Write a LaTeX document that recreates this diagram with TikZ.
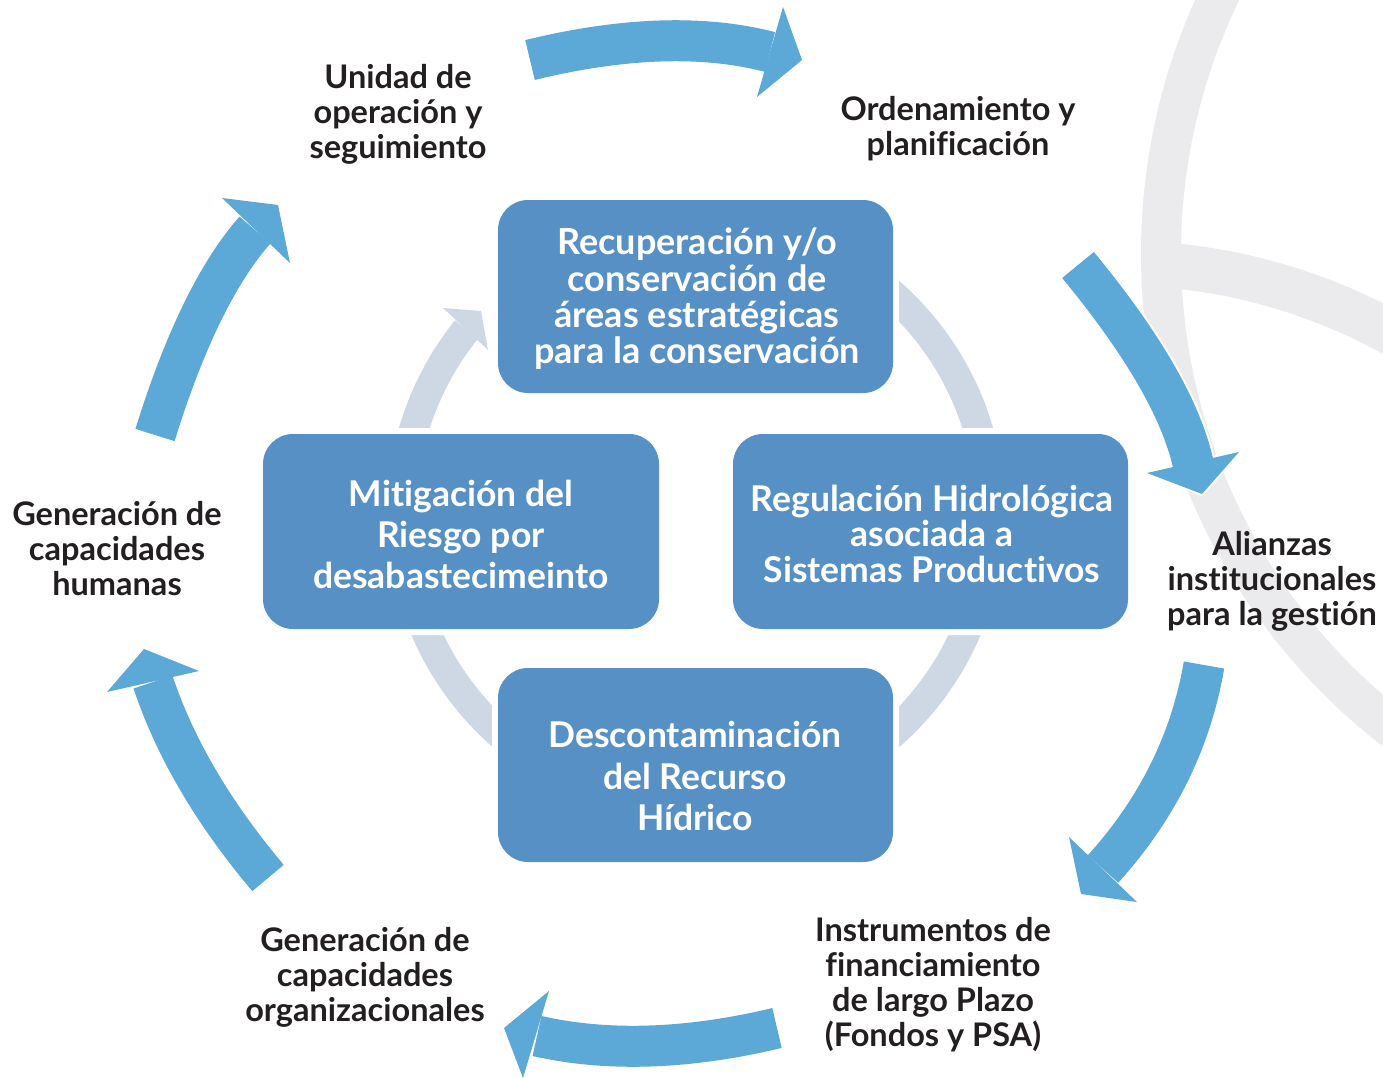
\documentclass[tikz,border=0pt]{standalone}
\usepackage{fontspec}
\setmainfont{Lato}[Ligatures=NoCommon]
\definecolor{arrowblue}{HTML}{5CA8D7}
\definecolor{boxblue}{HTML}{5790C4}
\definecolor{ringgray}{HTML}{CED8E4}
\definecolor{logogray}{HTML}{EBEBED}
\definecolor{labeltext}{HTML}{231F20}
\newcommand{\cyclearrow}[2]{%
  \draw[shaftwhite] #1;
  \filldraw[headwhite] #2;
  \draw[shaftblue] #1;
  \fill[arrowblue] #2;}
\begin{document}
\begin{tikzpicture}[x=1pt,y=-1pt,
  shaftwhite/.style={draw=white, line width=45pt},
  headwhite/.style={draw=white, fill=white, line width=4pt, line join=miter},
  shaftblue/.style={draw=arrowblue, line width=41pt},
  box/.style={fill=boxblue, rounded corners=30pt, inner sep=0pt,
    preaction={draw=white, line width=12pt}},
  boxtext/.style={text=white, align=center, inner sep=0pt},
  outlabel/.style={text=labeltext, align=center, inner sep=0pt,
    font=\fontsize{32.5}{35}\selectfont\bfseries}]
\useasboundingbox (0,0) rectangle (1383,1078);
% background logo
\begin{scope}
  \clip (0,0) rectangle (1383,1078);
  \draw[logogray, line width=40pt] (1763,254) circle[radius=602];
  \draw[logogray, line width=45pt] (1118,832) ++(-85:569) arc[start angle=-85, end angle=-50, radius=569];
\end{scope}
% outer cycle arrows
\cyclearrow{(530,60) .. controls (623.3,37.3) and (703.3,34.7) .. (770,52)}{(783,7) -- (802,60) -- (757,97) -- cycle}
\cyclearrow{(1078,265) .. controls (1142.3,343) and (1180.7,409) .. (1193,463)}{(1147,473) -- (1202,494) -- (1239,452) -- cycle}
\cyclearrow{(1204,665) .. controls (1191,741) and (1157.3,809) .. (1103,869)}{(1069,837) -- (1081,894) -- (1137,902) -- cycle}
\cyclearrow{(777,1028) .. controls (687.7,1049.3) and (607.7,1052) .. (537,1036)}{(549,991) -- (504,1028) -- (523,1078) -- cycle}
\cyclearrow{(268,878) .. controls (213,812.7) and (174.7,747.3) .. (153,682)}{(107,692) -- (144,649) -- (199,671) -- cycle}
\cyclearrow{(155,435) .. controls (184.3,340.7) and (217.7,272.3) .. (255,230)}{(222,198) -- (278,205) -- (290,263) -- cycle}
% inner ring
\draw[ringgray, line width=29.5pt] (696,514) ++(-131:294.5) arc[start angle=-131, end angle=218.8, radius=294.5];
\fill[ringgray] (443,308) -- (481,311) -- (488,350) -- cycle;
% boxes
\node[box, minimum width=395pt, minimum height=193pt] (recup) at (695.5,296.5) {};
\node[box, minimum width=396pt, minimum height=195pt] (mitig) at (461,531.5) {};
\node[box, minimum width=395pt, minimum height=195pt] (regul) at (930.5,531.5) {};
\node[box, minimum width=395pt, minimum height=194pt] (descon) at (695.5,765) {};
\node[boxtext, font=\fontsize{36}{36.3}\selectfont\bfseries] (recupT) at (697,299) {Recuperación y/o\\conservación de\\áreas estratégicas\\para la conservación};
\node[boxtext, font=\fontsize{35.5}{41}\selectfont\bfseries] (mitigT) at (461,534) {Mitigación del\\Riesgo por\\desabastecimeinto};
\node[boxtext, font=\fontsize{35.5}{35.5}\selectfont\bfseries] (regulT) at (932,533.5) {Regulación Hidrológica\\asociada a\\Sistemas Productivos};
\node[boxtext, font=\fontsize{35.5}{41.5}\selectfont\bfseries] (desconT) at (695,776) {Descontaminación\\del Recurso\\Hídrico};
% outer labels
\node[outlabel] (unidad) at (398,114) {Unidad de\\operación y\\seguimiento};
\node[outlabel] (orden) at (958,129) {Ordenamiento y\\planificación};
\node[outlabel] (alianzas) at (1272,581) {Alianzas\\institucionales\\para la gestión};
\node[outlabel] (instr) at (933,985) {Instrumentos de\\financiamiento\\de largo Plazo\\(Fondos y PSA)};
\node[outlabel] (genorg) at (365,977) {Generación de\\capacidades\\organizacionales};
\node[outlabel] (genhum) at (117,549) {Generación de\\capacidades\\humanas};
\end{tikzpicture}
\end{document}
